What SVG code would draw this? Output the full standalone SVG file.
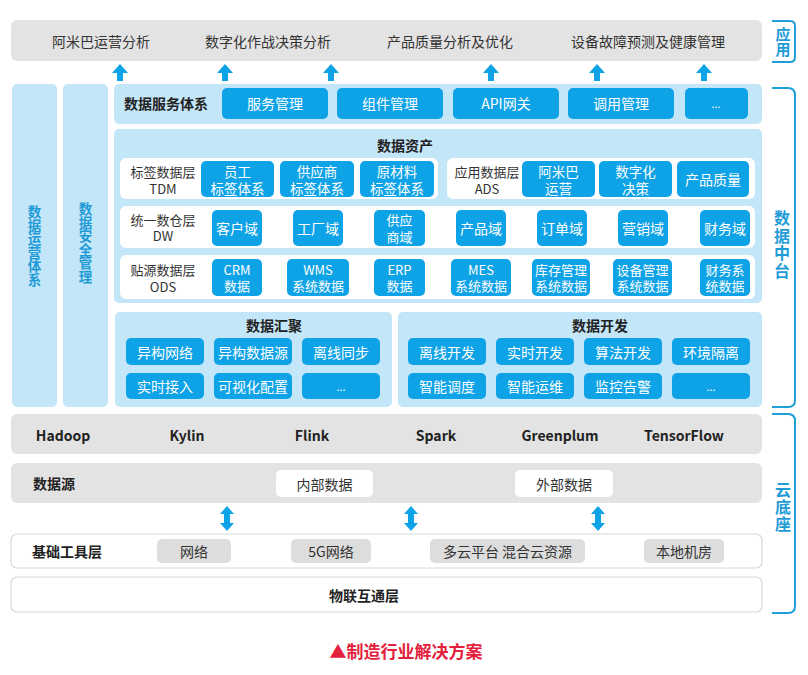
<svg xmlns="http://www.w3.org/2000/svg" xmlns:xlink="http://www.w3.org/1999/xlink" width="808" height="675" viewBox="0 0 808 675">
<defs>
<style>
text{font-family:"Noto Sans CJK SC","Noto Sans",sans-serif;}
.gray{fill:#e3e3e3;}
.lb{fill:#c3e6f8;}
.btn{fill:#0ea2e6;}
.wb{fill:#ffffff;}
.wbo{fill:#ffffff;stroke:#d8d8d8;stroke-width:1.2;}
.pill{fill:#dddddd;}
.t{font-size:14px;fill:#333333;text-anchor:middle;dominant-baseline:central;}
.t2{font-size:13px;fill:#333333;text-anchor:middle;dominant-baseline:central;}
.tb{font-size:14px;fill:#222222;font-weight:bold;dominant-baseline:central;}
.tbc{font-size:14px;fill:#222222;font-weight:bold;text-anchor:middle;dominant-baseline:central;}
.bt{font-size:14px;fill:#ffffff;text-anchor:middle;dominant-baseline:central;}
.bt2{font-size:13.5px;fill:#ffffff;text-anchor:middle;dominant-baseline:central;}
.bt3{font-size:13px;fill:#ffffff;text-anchor:middle;dominant-baseline:central;}
.vt{font-size:13.5px;fill:#1e9bd7;font-weight:bold;text-anchor:middle;writing-mode:vertical-rl;text-orientation:upright;}
.rt{fill:#1e9bd7;font-weight:bold;text-anchor:middle;writing-mode:vertical-rl;text-orientation:upright;}
.br{fill:none;stroke:#1e9fd8;stroke-width:2;}
.arr{fill:#0ea2e6;}
</style>
<path id="up" d="M-8,9 L0,0 L8,9 L3,9 L3,17 L-3,17 L-3,9 Z"/>
<path id="ud" d="M-7,8 L0,0 L7,8 L3,8 L3,17 L7,17 L0,25 L-7,17 L-3,17 L-3,8 Z"/>
</defs>
<rect width="808" height="675" fill="#ffffff"/>

<g id="app-layer">
<rect class="gray" x="11" y="20" width="751" height="41" rx="6"/>
<text class="t" x="101" y="41">阿米巴运营分析</text>
<text class="t" x="268" y="41">数字化作战决策分析</text>
<text class="t" x="450" y="41">产品质量分析及优化</text>
<text class="t" x="648" y="41">设备故障预测及健康管理</text>
</g>

<g id="ops-col">
<rect class="lb" x="12" y="84" width="45" height="323" rx="5"/>
<text class="vt" x="34.5" y="246">数据运营体系</text>
</g>
<g id="sec-col">
<rect class="lb" x="63" y="84" width="45" height="323" rx="5"/>
<text class="vt" x="85.5" y="243">数据安全管理</text>
</g>

<g id="service">
<rect class="lb" x="114" y="84" width="648" height="40" rx="5"/>
<text class="tb" x="124" y="103">数据服务体系</text>
<rect class="btn" x="222" y="88" width="106" height="31" rx="5"/><text class="bt" x="275" y="103">服务管理</text>
<rect class="btn" x="337" y="88" width="106" height="31" rx="5"/><text class="bt" x="390" y="103">组件管理</text>
<rect class="btn" x="453" y="88" width="106" height="31" rx="5"/><text class="bt" x="506" y="103">API网关</text>
<rect class="btn" x="568" y="88" width="106" height="31" rx="5"/><text class="bt" x="621" y="103">调用管理</text>
<rect class="btn" x="685" y="88" width="63" height="31" rx="5"/><text class="bt" x="716" y="103" style="font-size:11px">...</text>
</g>

<g id="assets">
<rect class="lb" x="114" y="129" width="648" height="174" rx="5"/>
<text class="tbc" x="405" y="145">数据资产</text>
<rect class="wb" x="120" y="158" width="318" height="41" rx="6"/>
<text class="t2" x="163" y="171">标签数据层</text><text class="t2" x="163" y="188">TDM</text>
<rect class="btn" x="201" y="161" width="73" height="36" rx="5"/><text class="bt2" x="237.5" y="170.5">员工</text><text class="bt2" x="237.5" y="187.5">标签体系</text>
<rect class="btn" x="280" y="161" width="74" height="36" rx="5"/><text class="bt2" x="317" y="170.5">供应商</text><text class="bt2" x="317" y="187.5">标签体系</text>
<rect class="btn" x="360" y="161" width="74" height="36" rx="5"/><text class="bt2" x="397" y="170.5">原材料</text><text class="bt2" x="397" y="187.5">标签体系</text>
<rect class="wb" x="447" y="158" width="308" height="41" rx="6"/>
<text class="t2" x="487" y="171">应用数据层</text><text class="t2" x="487" y="188">ADS</text>
<rect class="btn" x="522" y="161" width="73" height="36" rx="5"/><text class="bt2" x="558.5" y="170.5">阿米巴</text><text class="bt2" x="558.5" y="187.5">运营</text>
<rect class="btn" x="599" y="161" width="73" height="36" rx="5"/><text class="bt2" x="635.5" y="170.5">数字化</text><text class="bt2" x="635.5" y="187.5">决策</text>
<rect class="btn" x="677" y="161" width="72" height="36" rx="5"/><text class="bt" x="713" y="179">产品质量</text>

<rect class="wb" x="120" y="206" width="635" height="42" rx="6"/>
<text class="t2" x="163" y="219">统一数仓层</text><text class="t2" x="163" y="235.5">DW</text>
<rect class="btn" x="212" y="210" width="50" height="36" rx="5"/><text class="bt" x="237" y="228">客户域</text>
<rect class="btn" x="293" y="210" width="50" height="36" rx="5"/><text class="bt" x="318" y="228">工厂域</text>
<rect class="btn" x="374" y="210" width="51" height="36" rx="5"/><text class="bt3" x="399.5" y="219.5">供应</text><text class="bt3" x="399.5" y="236">商域</text>
<rect class="btn" x="456" y="210" width="50" height="36" rx="5"/><text class="bt" x="481" y="228">产品域</text>
<rect class="btn" x="537" y="210" width="50" height="36" rx="5"/><text class="bt" x="562" y="228">订单域</text>
<rect class="btn" x="618" y="210" width="50" height="36" rx="5"/><text class="bt" x="643" y="228">营销域</text>
<rect class="btn" x="700" y="210" width="50" height="36" rx="5"/><text class="bt" x="725" y="228">财务域</text>

<rect class="wb" x="120" y="255" width="635" height="44" rx="6"/>
<text class="t2" x="163" y="269.5">贴源数据层</text><text class="t2" x="163" y="286">ODS</text>
<rect class="btn" x="212" y="259" width="50" height="37" rx="5"/><text class="bt3" x="237" y="269">CRM</text><text class="bt3" x="237" y="285.5">数据</text>
<rect class="btn" x="287" y="259" width="62" height="37" rx="5"/><text class="bt3" x="318" y="269">WMS</text><text class="bt3" x="318" y="285.5">系统数据</text>
<rect class="btn" x="374" y="259" width="51" height="37" rx="5"/><text class="bt3" x="399.5" y="269">ERP</text><text class="bt3" x="399.5" y="285.5">数据</text>
<rect class="btn" x="451" y="259" width="60" height="37" rx="5"/><text class="bt3" x="481" y="269">MES</text><text class="bt3" x="481" y="285.5">系统数据</text>
<rect class="btn" x="532" y="259" width="58" height="37" rx="5"/><text class="bt3" x="561" y="269">库存管理</text><text class="bt3" x="561" y="285.5">系统数据</text>
<rect class="btn" x="613" y="259" width="59" height="37" rx="5"/><text class="bt3" x="642.5" y="269">设备管理</text><text class="bt3" x="642.5" y="285.5">系统数据</text>
<rect class="btn" x="700" y="259" width="50" height="37" rx="5"/><text class="bt3" x="725" y="269">财务系</text><text class="bt3" x="725" y="285.5">统数据</text>
</g>

<g id="collect">
<rect class="lb" x="115" y="312" width="277" height="95" rx="5"/>
<text class="tbc" x="274" y="325">数据汇聚</text>
<rect class="btn" x="126" y="338" width="78" height="27" rx="5"/><text class="bt" x="165" y="351.5">异构网络</text>
<rect class="btn" x="214" y="338" width="78" height="27" rx="5"/><text class="bt" x="253" y="351.5">异构数据源</text>
<rect class="btn" x="302" y="338" width="78" height="27" rx="5"/><text class="bt" x="341" y="351.5">离线同步</text>
<rect class="btn" x="126" y="373" width="78" height="26" rx="5"/><text class="bt" x="165" y="386">实时接入</text>
<rect class="btn" x="214" y="373" width="78" height="26" rx="5"/><text class="bt" x="253" y="386">可视化配置</text>
<rect class="btn" x="302" y="373" width="78" height="26" rx="5"/><text class="bt" x="341" y="386" style="font-size:11px">...</text>
</g>

<g id="develop">
<rect class="lb" x="398" y="312" width="364" height="95" rx="5"/>
<text class="tbc" x="600" y="325">数据开发</text>
<rect class="btn" x="408" y="338" width="78" height="27" rx="5"/><text class="bt" x="447" y="351.5">离线开发</text>
<rect class="btn" x="496" y="338" width="78" height="27" rx="5"/><text class="bt" x="535" y="351.5">实时开发</text>
<rect class="btn" x="584" y="338" width="78" height="27" rx="5"/><text class="bt" x="623" y="351.5">算法开发</text>
<rect class="btn" x="672" y="338" width="78" height="27" rx="5"/><text class="bt" x="711" y="351.5">环境隔离</text>
<rect class="btn" x="408" y="373" width="78" height="26" rx="5"/><text class="bt" x="447" y="386">智能调度</text>
<rect class="btn" x="496" y="373" width="78" height="26" rx="5"/><text class="bt" x="535" y="386">智能运维</text>
<rect class="btn" x="584" y="373" width="78" height="26" rx="5"/><text class="bt" x="623" y="386">监控告警</text>
<rect class="btn" x="672" y="373" width="78" height="26" rx="5"/><text class="bt" x="711" y="386" style="font-size:11px">...</text>
</g>

<g id="engines">
<rect class="gray" x="11" y="414" width="751" height="40" rx="6"/>
<text class="tbc" x="63" y="435">Hadoop</text>
<text class="tbc" x="187" y="435">Kylin</text>
<text class="tbc" x="312" y="435">Flink</text>
<text class="tbc" x="436" y="435">Spark</text>
<text class="tbc" x="560" y="435">Greenplum</text>
<text class="tbc" x="684" y="435">TensorFlow</text>
</g>

<g id="datasource">
<rect class="gray" x="11" y="463" width="751" height="40" rx="6"/>
<text class="tb" x="33" y="483">数据源</text>
<rect class="wb" x="276" y="470" width="97" height="27" rx="5"/><text class="t" x="324.5" y="483.5">内部数据</text>
<rect class="wb" x="515" y="470" width="98" height="27" rx="5"/><text class="t" x="564" y="483.5">外部数据</text>
</g>

<g id="infra">
<rect class="wbo" x="11" y="534" width="751" height="34" rx="6"/>
<text class="tb" x="32" y="551">基础工具层</text>
<rect class="pill" x="157" y="539" width="74" height="24" rx="5"/><text class="t" x="194" y="551">网络</text>
<rect class="pill" x="291" y="539" width="80" height="24" rx="5"/><text class="t" x="331" y="551">5G网络</text>
<rect class="pill" x="430" y="539" width="155" height="24" rx="5"/><text class="t" x="507.5" y="551">多云平台 混合云资源</text>
<rect class="pill" x="644" y="539" width="80" height="24" rx="5"/><text class="t" x="684" y="551">本地机房</text>
</g>

<g id="iot">
<rect class="wbo" x="11" y="577" width="751" height="35" rx="6"/>
<text class="tbc" x="364" y="595">物联互通层</text>
</g>

<g id="connectors">
<use href="#up" class="arr" x="120" y="64"/>
<use href="#up" class="arr" x="225" y="64"/>
<use href="#up" class="arr" x="331" y="64"/>
<use href="#up" class="arr" x="491" y="64"/>
<use href="#up" class="arr" x="597" y="64"/>
<use href="#up" class="arr" x="704" y="64"/>
<use href="#ud" class="arr" x="227" y="506"/>
<use href="#ud" class="arr" x="411" y="506"/>
<use href="#ud" class="arr" x="598" y="506"/>
</g>

<g id="brackets">
<path class="br" d="M772,21 H790 Q795,21 795,26 V57 Q795,62 790,62 H772"/>
<text class="rt" x="783" y="42" style="font-size:15px">应用</text>
<path class="br" d="M772,88 H788 Q795,88 795,95 V400 Q795,407 788,407 H772"/>
<text class="rt" x="782" y="245" style="font-size:16px;letter-spacing:1.5px">数据中台</text>
<text class="rt" x="783" y="507" style="font-size:16px;letter-spacing:1px">云底座</text>
<path class="br" d="M772,414 H788 Q795,414 795,421 V606 Q795,613 788,613 H772"/>
</g>

<g id="caption">
<text x="406" y="658" style="font-size:17px;font-weight:bold;fill:#e3213d;text-anchor:middle">▲制造行业解决方案</text>
</g>
</svg>
